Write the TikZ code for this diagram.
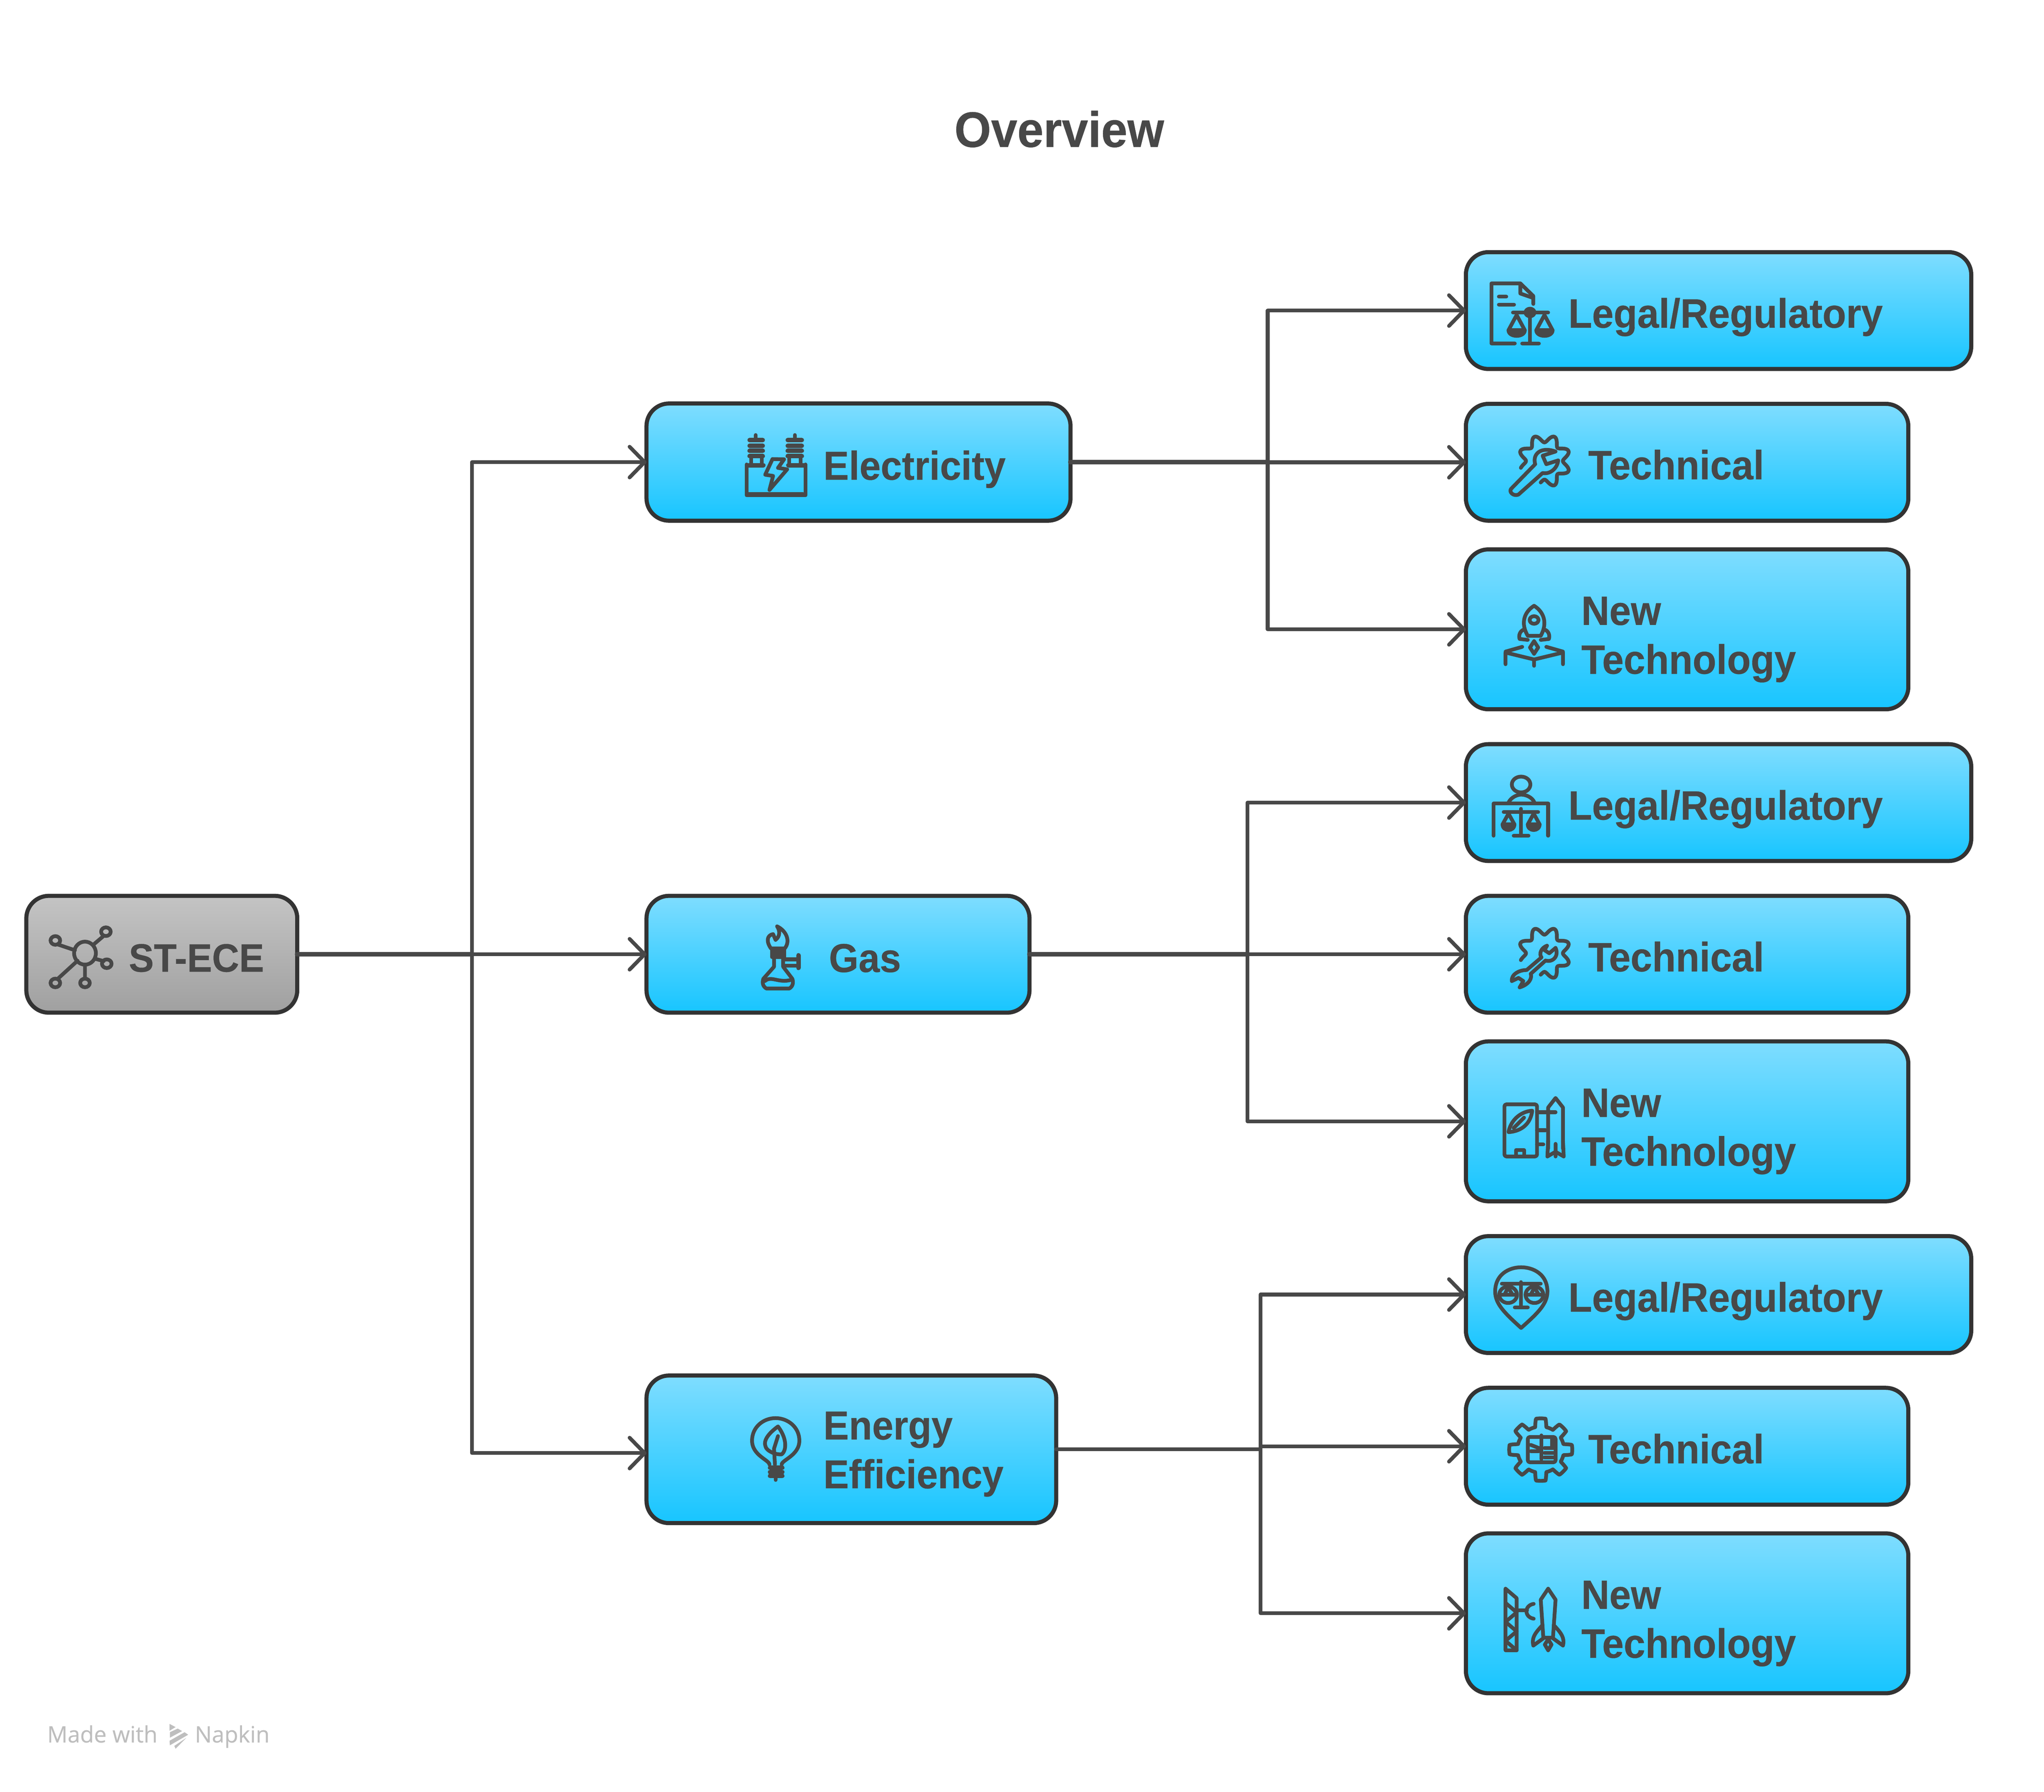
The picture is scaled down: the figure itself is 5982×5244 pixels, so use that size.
\documentclass[tikz,border=0pt]{standalone}
\usepackage{fontspec}
\usetikzlibrary{arrows.meta}
\setmainfont{Liberation Sans}
\newfontfamily\labfont[FakeStretch=0.945,FakeBold=0.4]{Liberation Sans}
\newfontfamily\markfont[FakeBold=0.3]{Open Sans}
\definecolor{inkc}{HTML}{484848}
\definecolor{edgec}{HTML}{333333}
\definecolor{blueT}{HTML}{7FDDFF}
\definecolor{blueB}{HTML}{17C5FF}
\definecolor{grayT}{HTML}{C4C4C4}
\definecolor{grayB}{HTML}{A0A0A0}
\definecolor{markc}{HTML}{BEBEBE}
\tikzset{
  anybox/.style={draw=edgec,line width=12pt,rounded corners=66pt,inner sep=0pt,outer sep=0pt},
  bluebox/.style={anybox,top color=blueT,bottom color=blueB},
  graybox/.style={anybox,top color=grayT,bottom color=grayB},
  lab/.style={anchor=base west,inner sep=0pt,outer sep=0pt,text=inkc,align=left,
     font=\labfont\bfseries\fontsize{120}{143}\selectfont},
  labs/.style={lab,font=\labfont\bfseries\fontsize{118}{143}\selectfont},
  link/.style={draw=inkc,line width=11pt,line cap=round,line join=round,
     -{Straight Barb[length=44pt,width=90pt,round]}},
  stub/.style={draw=inkc,line width=14pt,line cap=round},
  ico/.style={draw=inkc,line width=11pt,line cap=round,line join=round,fill=none},
  bar/.style={draw=inkc,line width=13pt,line cap=round},
  cropA/.style={x=1.0846pt,y=-0.925pt},
}
\newcommand{\bx}[6]{\node[#1,minimum width={(#5-(#3))*1pt},minimum height={(#6-(#4))*1pt}] (#2) at ({(#3+#5)/2},{(#4+#6)/2}) {};}
\newcommand{\pan}[4]{% centre x, top y, rim y, half width
  \draw[ico] (#1,#2)--(#1-#4,#3) -- (#1+#4,#3) -- cycle;
  \draw[ico,fill=inkc] (#1-#4,#3) .. controls (#1-#4,#3+24) and (#1+#4,#3+24) .. (#1+#4,#3);}
\begin{document}
\begin{tikzpicture}[x=1pt,y=-1pt]
\useasboundingbox (0,0) rectangle (5982,5244);
\fill[white] (0,0) rectangle (5982,5244);

% title
\node[anchor=base,inner sep=0pt,text=inkc,font=\labfont\bfseries\fontsize{146}{170}\selectfont] (title) at (3100,430) {Overview};

% boxes
\bx{graybox}{root}{77}{2622}{870}{2964}
\bx{bluebox}{elec}{1892}{1181}{3133}{1524}
\bx{bluebox}{gas}{1892}{2622}{3013}{2964}
\bx{bluebox}{eff}{1892}{4026}{3091}{4458}
\foreach \n/\o in {1/0,2/1440,3/2880}{
  \bx{bluebox}{l\n}{4290}{738+\o}{5769}{1080+\o}
  \bx{bluebox}{t\n}{4290}{1182+\o}{5585}{1524+\o}
  \bx{bluebox}{n\n}{4290}{1608+\o}{5585}{2076+\o}
}

% bus coordinates
\coordinate (b0) at (1381,2793);
\coordinate (effin) at (1892,4253);
\coordinate (b1) at (3710,1352.5);
\coordinate (b2) at (3651,2793);
\coordinate (b3) at (3689,4242);

% connectors
\draw[stub] (root.east) -- (b0);
\draw[stub] (elec.east) -- (b1);
\draw[stub] (gas.east) -- (b2);
\draw[link] (root.east) -- (b0) |- (elec.west);
\draw[link] (root.east) -- (gas.west);
\draw[link] (b0) |- (effin);
\foreach \s/\b/\i in {elec/b1/1,gas/b2/2,eff/b3/3}{
  \draw[link] (\s.east) -- (\b) |- (l\i.west);
  \draw[link] (\s.east) -- (\b) |- (t\i.west);
  \draw[link] (\s.east) -- (\b) |- (n\i.west);
}

% labels
\node[lab] (tr) at (377,2844) {\fontsize{116}{143}\selectfont ST-ECE};
\node[labs] (te) at (2410,1404) {Electricity};
\node[labs] (tg) at (2426,2845) {Gas};
\node[labs] (tf) at (2410,4356) {Energy\\Efficiency};
\foreach \n/\o in {1/0,2/1440,3/2880}{
  \node[lab] (tl\n) at (4590,959+\o) {Legal/Regulatory};
  \node[lab] (tt\n) at (4648,1403+\o) {Technical};
  \node[lab] (tn\n) at (4628,1972+\o) {New\\Technology};
}

% ---------- icons in group 1 ----------
\begin{scope}[cropA,shift={(4200pt,-700pt)}]
  % legal 1
  \draw[ico] (215,330) -- (152,330) -- (152,140) -- (230,140) -- (265,180) -- (265,205);
  \draw[ico] (230,140) -- (230,172) -- (262,185);
  \draw[ico] (172,182)--(192,182) (172,207)--(213,207);
  \draw[ico] (210,232)--(305,232) (256,245)--(256,330) (235,330)--(280,330);
  \draw[ico] (256,232) circle (12);
  \pan{220}{240}{288}{22}
  \pan{295}{240}{288}{22}
  % technical 1
  \draw[ico] plot[domain=-196:100,samples=200,variable=\t] ({295+60*(1-.17*cos(8*\t))*cos(\t)},{702+71*(1-.17*cos(8*\t))*sin(\t)});
  \draw[ico] (270,712) .. controls (262,680) and (285,655) .. (325,672) -- (290,685) -- (300,712) -- (332,700) .. controls (330,725) and (310,745) .. (290,740) -- (225,808) .. controls (212,815) and (198,800) .. (205,790) -- cycle;
  % new tech 1
  \draw[ico] (250,1255) .. controls (230,1215) and (240,1180) .. (267,1160) .. controls (294,1180) and (304,1215) .. (285,1255) -- cycle;
  \draw[ico] (267,1205) circle (12);
  \draw[ico] (240,1235) .. controls (228,1240) and (225,1255) .. (228,1265) -- (250,1268);
  \draw[ico] (295,1235) .. controls (307,1240) and (310,1255) .. (307,1265) -- (285,1268);
  \draw[ico] (267,1272) -- (256,1292) -- (267,1312) -- (278,1292) -- cycle;
  \draw[ico] (190,1345) -- (190,1308) -- (267,1330) -- (345,1308) -- (345,1345);
  \draw[ico] (190,1305) -- (235,1290) (345,1305) -- (300,1290) (267,1330) -- (267,1350);
\end{scope}

% ---------- icons in group 2 ----------
\begin{scope}[cropA,shift={(4200pt,-2150pt)}]
  % legal 2
  \draw[ico] (232,158) circle (25);
  \draw[ico] (198,215) .. controls (205,198) and (222,190) .. (232,190) .. controls (245,190) and (262,198) .. (268,215);
  \draw[ico] (158,320)--(158,218)--(305,218)--(305,320);
  \draw[ico] (185,245)--(278,245) (232,235)--(232,320) (212,320)--(252,320);
  \pan{198}{250}{284}{16}
  \pan{266}{250}{284}{16}
  % technical 2
  \draw[ico] plot[domain=-196:100,samples=200,variable=\t] ({295+60*(1-.17*cos(8*\t))*cos(\t)},{692+71*(1-.17*cos(8*\t))*sin(\t)});
  \draw[ico] (302,668) .. controls (285,675) and (280,695) .. (287,705) -- (247,745) .. controls (225,745) and (205,760) .. (207,780) -- (225,770) -- (238,780) -- (228,800) .. controls (255,790) and (262,770) .. (258,757) -- (298,715) .. controls (318,722) and (335,700) .. (325,675) -- (308,692) -- (295,682) -- cycle;
  % new tech 2
  \draw[ico,rounded corners=6pt] (187,1170) rectangle (275,1335);
  \draw[ico] (218,1335)--(218,1315)--(240,1315)--(240,1335);
  \draw[ico] (198,1258) .. controls (205,1215) and (235,1192) .. (262,1190) .. controls (258,1230) and (235,1255) .. (198,1258) -- cycle;
  \draw[ico] (240,1212) -- (212,1245);
  \draw[ico] (305,1310) -- (305,1180) -- (325,1150) -- (345,1180) -- (345,1310);
  \draw[ico] (305,1285) -- (303,1335) -- (325,1320) -- (347,1335) -- (345,1285) (325,1295)--(325,1335);
  \draw[ico] (275,1195)--(325,1195) (275,1252)--(298,1252) (275,1297)--(292,1297);
\end{scope}

% ---------- icons in group 3 ----------
\begin{scope}[cropA,shift={(4200pt,-3600pt)}]
  % legal 3
  \draw[ico] (232,310) .. controls (190,265) and (162,235) .. (162,195) .. controls (162,140) and (200,118) .. (232,118) .. controls (265,118) and (303,140) .. (303,195) .. controls (303,235) and (275,265) .. (232,310) -- cycle;
  \draw[ico] (180,170)--(285,170) (232,165)--(232,245) (215,245)--(250,245);
  \draw[ico] (197,205) ellipse [x radius=24,y radius=26];
  \draw[ico] (268,205) ellipse [x radius=24,y radius=26];
  \draw[ico] (176,205)--(218,205) (197,182)--(187,205) (197,182)--(209,205);
  \draw[ico] (247,205)--(289,205) (268,182)--(258,205) (268,182)--(280,205);
  % technical 3
  \draw[ico] plot[domain=0:360,samples=320,variable=\t] ({285+74*(1+.15*min(1,max(-1,3*cos(8*\t))))*cos(\t)},{695+86*(1+.15*min(1,max(-1,3*cos(8*\t))))*sin(\t)}) -- cycle;
  \draw[ico,rounded corners=6pt] (250,655) rectangle (325,735);
  \draw[ico] (287,650)--(287,725) (315,660)--(315,690);
  \draw[ico] (258,680)--(280,690) (258,700)--(280,700);
  \draw[ico] (295,690)--(320,690) (295,705)--(320,705) (295,720)--(320,720);
  % new tech 3
  \draw[ico] (190,1135)--(190,1330)--(220,1330)--(220,1165)--cycle;
  \draw[ico] (190,1180)--(220,1210)--(190,1240)--(220,1270)--(190,1300)--(220,1330);
  \draw[ico] (222,1203)--(248,1203);
  \draw[ico] (266,1183) .. controls (240,1188) and (240,1225) .. (266,1230);
  \draw[ico] (292,1290) -- (285,1170) -- (305,1135) -- (325,1170) -- (318,1290) -- cycle;
  \draw[ico] (290,1250) .. controls (270,1275) and (260,1290) .. (265,1315) -- (292,1292);
  \draw[ico] (320,1250) .. controls (340,1275) and (350,1290) .. (345,1315) -- (318,1292);
  \draw[ico] (305,1295)--(296,1312)--(305,1330)--(314,1312)--cycle;
\end{scope}

% ---------- root icon ----------
\begin{scope}[x=1.2755pt,y=-0.3827pt,shift={(0pt,-2500pt)}]
  \draw[ico] (195,757) ellipse [x radius=25,y radius=88];
  \foreach \a/\b in {243/593,127/660,245/838,127/985,195/985}
    \draw[ico] (\a,\b) ellipse [x radius=11,y radius=33];
  \draw[ico] (215,690)--(238,625) (172,735)--(132,690) (218,800)--(238,818) (178,815)--(132,955) (195,848)--(195,952);
\end{scope}

% ---------- electricity icon ----------
\begin{scope}[x=0.893pt,y=-0.335pt,shift={(1850pt,-1150pt)}]
  \draw[ico] (375,625)--(375,895)--(568,895)--(568,625);
  \draw[bar] (382,888)--(560,888);
  \draw[ico] (405,368)--(405,400) (533,368)--(533,400);
  \foreach \y in {412,462,506,552}{
    \draw[bar] (385,\y)--(428,\y);
    \draw[bar] (510,\y)--(556,\y);
  }
  \draw[ico] (390,565)--(390,620) (425,565)--(425,620) (515,565)--(515,620) (552,565)--(552,620);
  \draw[bar] (382,632)--(430,632) (512,632)--(562,632);
  \draw[ico] (460,578) -- (498,580) -- (478,655) -- (508,668) -- (450,848) -- (462,725) -- (436,715) -- cycle;
\end{scope}

% ---------- gas icon ----------
\begin{scope}[x=0.893pt,y=-0.335pt,shift={(1850pt,-2580pt)}]
  \draw[ico] (475,392) .. controls (505,430) and (520,520) .. (500,585) -- (455,585) .. controls (440,530) and (440,470) .. (462,460) -- (470,510) .. controls (485,480) and (485,430) .. (475,392) -- cycle;
  \draw[ico,fill=inkc] (458,595) rectangle (498,660);
  \draw[ico] (465,660)--(465,745) -- (430,850) .. controls (425,890) and (430,920) .. (440,935) -- (515,935) .. controls (525,920) and (530,890) .. (525,850) -- (495,745) -- (495,660);
  \draw[ico] (498,680)--(540,680) (498,735)--(540,735);
  \draw[bar] (545,645)--(545,755);
  \draw[ico] (435,870) .. controls (455,820) and (480,890) .. (520,860);
\end{scope}

% ---------- efficiency icon ----------
\begin{scope}[x=0.893pt,y=-0.3333pt,shift={(1850pt,-4000pt)}]
  \draw[ico] (450,860) .. controls (450,820) and (393,780) .. (393,650) .. controls (393,530) and (430,452) .. (470,452) .. controls (510,452) and (548,530) .. (548,650) .. controls (548,780) and (490,820) .. (490,860);
  \draw[ico] (478,525) .. controls (445,590) and (430,650) .. (437,700) .. controls (440,740) and (470,775) .. (490,770) .. controls (505,740) and (510,640) .. (478,525) -- cycle;
  \draw[ico] (478,610) -- (465,720) -- (468,860);
  \draw[bar] (452,888)--(492,888) (452,925)--(492,925) (452,960)--(492,960);
  \draw[ico] (470,970)--(470,995);
\end{scope}

% ---------- footer ----------
\node[anchor=base west,inner sep=0pt,text=markc,font=\markfont\fontsize{66}{78}\selectfont] (made) at (138,5100) {Made with};
\node[anchor=base west,inner sep=0pt,text=markc,font=\markfont\fontsize{66}{78}\selectfont] (napkin) at (570,5100) {Napkin};
\begin{scope}[x=0.4785pt,y=-0.3333pt,shift={(100pt,-5000pt)}]
  \fill[markc] (828,137) -- (865,165) -- (828,197) -- cycle;
  \fill[markc] (830,210) -- (878,178) -- (905,200) -- (830,258) -- cycle;
  \fill[markc] (828,285) -- (920,210) -- (942,232) -- (830,325) -- cycle;
  \fill[markc] (857,330) -- (930,260) -- (865,355) -- cycle;
\end{scope}
\end{tikzpicture}
\end{document}
